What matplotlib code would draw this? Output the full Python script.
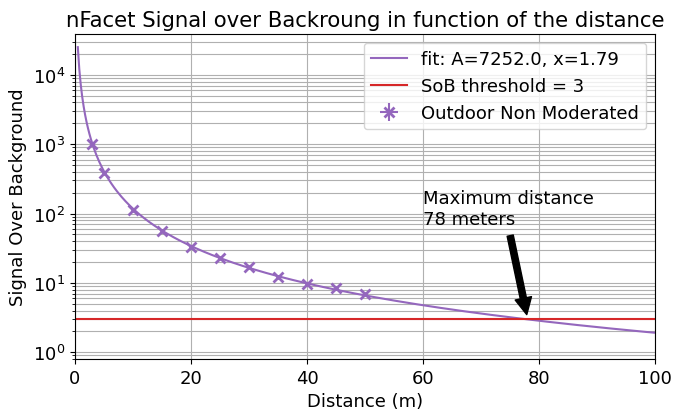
import numpy as np
import matplotlib
matplotlib.use('Agg')
import matplotlib.pyplot as plt

distance = [3, 5, 10, 15, 20, 25, 30, 35, 40, 45, 50]
sob = [1010, 378, 111, 56, 32.7, 23, 16.7, 12.3, 9.8, 8.4, 6.9]
sob_err = [10, 4, 1.2, 0.6, 0.35, 0.25, 0.18, 0.13, 0.1, 0.09, 0.07]
dist_err = [0.2] * 11

# fit parameters from the legend
A = 7252.0
x_exp = 1.79
fit_range = [0.5, 125]

threshold = 3
max_dist = 78

plt.rcParams['font.size'] = 13

fig, ax = plt.subplots(figsize=(6.75, 4.1), dpi=100)

d_fit = np.linspace(fit_range[0], fit_range[1], 500)
ax.plot(d_fit, A * d_fit ** (-x_exp), color='tab:purple',
        label='fit: A=%.1f, x=%.2f' % (A, x_exp))
ax.axhline(threshold, color='tab:red', label='SoB threshold = %d' % threshold)
ax.errorbar(distance, sob, yerr=sob_err, xerr=dist_err, fmt='x', color='tab:purple',
            ms=7, mew=2, label='Outdoor Non Moderated')

ax.annotate('Maximum distance\n%d meters' % max_dist, xy=(max_dist, threshold),
            xytext=(60, 70), arrowprops=dict(facecolor='black', shrink=0.05, width=4.5))

ax.set_yscale('log')
ax.set_xlim(0, 100)
ax.set_ylim(0.8, 3.9e4)
ax.grid(True, which='both')
ax.set_title('nFacet Signal over Backroung in function of the distance', fontsize=15.3)
ax.set_xlabel('Distance (m)')
ax.set_ylabel('Signal Over Background')
ax.legend(loc='upper right')

fig.subplots_adjust(left=0.111, right=0.971, top=0.915, bottom=0.122)
fig.savefig('out.png')
